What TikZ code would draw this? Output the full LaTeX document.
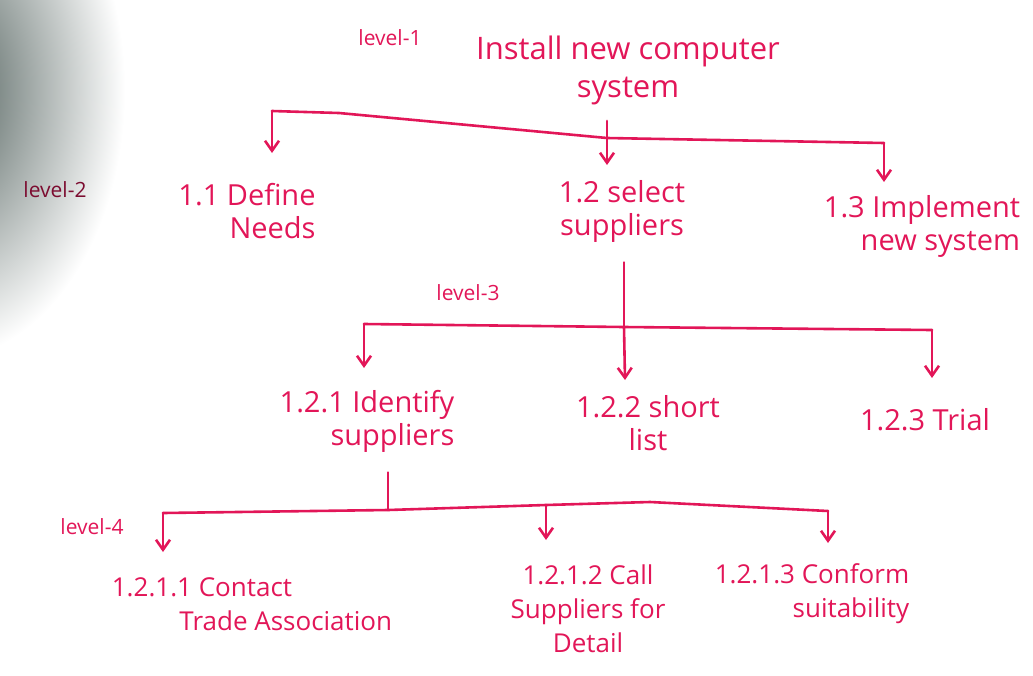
\documentclass[tikz,border=0pt]{standalone}
\usepackage{fontspec}
\setmainfont{Open Sans}
\usetikzlibrary{arrows.meta}
\definecolor{ink}{RGB}{226,22,88}
\definecolor{shadeC}{RGB}{72,88,84}

\begin{document}
\begin{tikzpicture}[x=0.5pt, y=-0.5pt,
  task/.style={inner sep=1pt, text=ink, font=\fontsize{14.5}{16.5}\selectfont},
  leaf/.style={inner sep=1pt, text=ink, font=\fontsize{13}{17}\selectfont},
  lvl/.style={inner sep=1pt, text=ink, font=\fontsize{10.5}{12}\selectfont},
  conn/.style={draw=ink, line width=1.3pt, line join=round, line cap=round},
  arr/.style={conn, -{Straight Barb[length=5pt, width=7pt]}},
]
\useasboundingbox (0,0) rectangle (1033,675);

% ============ page shadow on the left ============
\begin{scope}
  \clip (0,0) rectangle (1033,675);
  \shade[inner color=shadeC, outer color=white] (-60,90) ellipse [x radius=185, y radius=270];
\end{scope}

% ===================== level 1 =====================
\node[lvl] (l1) at (390,38) {level-1};
\node[task, font=\fontsize{15.5}{19}\selectfont, align=center] (top) at (628,70) {Install new computer\\system};

% ===================== level 2 =====================
\node[lvl, text=ink!55!black] (l2) at (55,190) {level-2};
\node[task, align=right]  (n11) at (247,211) {1.1 Define\\Needs};
\node[task, align=center] (n12) at (622,211) {1.2 select\\suppliers};
\node[task, align=right]  (n13) at (922,226) {1.3 Implement\\new system};

\coordinate (b1l) at (272,111);
\coordinate (b1m) at (339,113);
\coordinate (j1)  at (607,138);
\coordinate (b1r) at (884,143);
\coordinate (t11) at (272,153);
\coordinate (t12) at (607,165);
\coordinate (t13) at (884,182);
\draw[conn, shorten <=7pt] (top.south -| j1) -- (j1);
\draw[conn] (b1l) -- (b1m) -- (j1) -- (b1r);
\draw[arr] (b1l) -- (t11);
\draw[arr] (j1) -- (t12);
\draw[arr] (b1r) -- (t13);

% ===================== level 3 =====================
\node[lvl] (l3) at (468,293) {level-3};
\node[task, align=right]  (n121) at (367,421) {1.2.1 Identify\\suppliers};
\node[task, align=center] (n122) at (648,423) {1.2.2 short\\list};
\node[task]               (n123) at (925,420) {1.2.3 Trial};

\coordinate (b2l) at (364,324);
\coordinate (j2)  at (624,327);
\coordinate (b2r) at (932,330);
\coordinate (t121) at (364,368);
\coordinate (t122) at (625,380);
\coordinate (t123) at (932,378);
\draw[conn, shorten <=9pt] (n12.south -| j2) -- (j2);
\draw[conn] (b2l) -- (j2) -- (b2r);
\draw[arr] (b2l) -- (t121);
\draw[arr] (j2) -- (t122);
\draw[arr] (b2r) -- (t123);

% ===================== level 4 =====================
\node[lvl] (l4) at (92,527) {level-4};
\node[leaf, align=left]   (n1211) at (252,604) {1.2.1.1 Contact\\\hspace*{2.6em}Trade Association};
\node[leaf, align=center] (n1212) at (588,609) {1.2.1.2 Call\\Suppliers for\\Detail};
\node[leaf, align=right]  (n1213) at (812,594) {1.2.1.3 Conform\\suitability};

\coordinate (b3l) at (163,513);
\coordinate (j3)  at (388,510);
\coordinate (j3b) at (546,505);
\coordinate (b3m) at (650,502);
\coordinate (b3r) at (828,511);
\coordinate (t1211) at (163,552);
\coordinate (t1212) at (546,540);
\coordinate (t1213) at (828,543);
\draw[conn, shorten <=9pt] (n121.south -| j3) -- (j3);
\draw[conn] (b3l) -- (j3) -- (j3b) -- (b3m) -- (b3r);
\draw[arr] (b3l) -- (t1211);
\draw[arr] (j3b) -- (t1212);
\draw[arr] (b3r) -- (t1213);

\end{tikzpicture}
\end{document}
